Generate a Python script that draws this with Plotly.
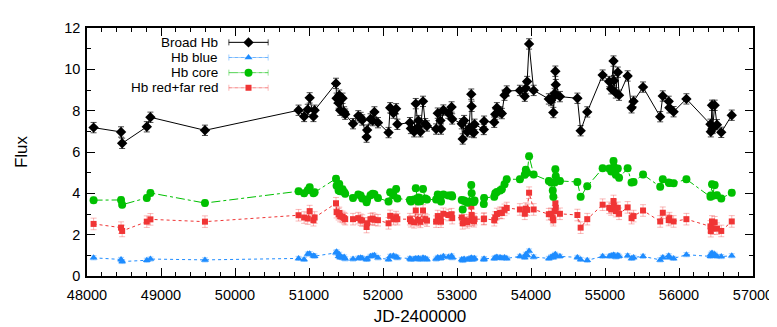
import plotly.graph_objects as go

# epochs (JD-2400000)
jd = [48089, 48460, 48475, 48808, 48857, 49594, 50859, 50934, 50983, 51009,
      51060, 51076, 51365, 51373, 51400, 51409, 51422, 51453, 51475, 51489,
      51595, 51666, 51698, 51719, 51778, 51786, 51831, 51861, 51884, 51932,
      52075, 52097, 52141, 52177, 52194, 52364, 52377, 52421, 52443, 52474,
      52480, 52505, 52541, 52571, 52594, 52718, 52740, 52776, 52784, 52816,
      52883, 52927, 52935, 53064, 53077, 53096, 53140, 53162, 53193, 53198,
      53206, 53229, 53237, 53362, 53366, 53503, 53517, 53539, 53583, 53606,
      53642, 53672, 53850, 53916, 53930, 53948, 53974, 54036, 54241, 54271,
      54294, 54302, 54320, 54329, 54335, 54391, 54627, 54671, 54760, 54968,
      55057, 55084, 55115, 55120, 55146, 55173, 55190, 55306, 55359, 55386,
      55514, 55746, 55781, 55861, 55870, 55927, 56100, 56425, 56430, 56446,
      56455, 56482, 56513, 56571, 56713]

broad = [7.18, 6.97, 6.42, 7.22, 7.68, 7.05, 8.02, 7.72, 8.06, 8.62,
         7.72, 8.02, 9.32, 8.60, 8.37, 8.75, 8.02, 8.60, 7.94, 7.83,
         7.37, 7.75, 7.67, 7.55, 6.72, 7.06, 7.60, 7.52, 7.94, 7.42,
         6.94, 8.14, 7.88, 8.09, 7.34, 7.42, 7.14, 6.98, 8.34, 7.21,
         7.52, 6.98, 8.45, 7.37, 7.26, 7.11, 7.88, 7.52, 7.11, 8.03,
         7.88, 8.18, 7.60, 7.37, 6.63, 7.52, 6.98, 7.14, 8.80, 8.21,
         6.98, 6.94, 7.34, 7.09, 7.49, 7.44, 7.83, 8.14, 7.94, 7.86,
         8.75, 8.95, 8.98, 8.70, 9.09, 9.41, 11.23, 8.98, 8.57, 8.49,
         8.64, 7.91, 8.83, 9.91, 9.26, 8.68, 8.60, 7.03, 7.94, 9.72,
         9.41, 9.06, 10.40, 9.45, 8.86, 9.86, 8.75, 9.68, 8.14, 8.45,
         9.14, 7.71, 8.71, 8.45, 8.14, 7.95, 8.57, 7.34, 6.98, 8.26,
         7.14, 8.26, 7.32, 6.95, 7.78]

core = [3.67, 3.68, 3.45, 3.78, 4.02, 3.53, 4.10, 4.00, 4.15, 4.29,
        4.01, 4.05, 4.71, 4.37, 4.14, 4.45, 4.10, 4.20, 4.06, 3.98,
        3.78, 3.94, 3.90, 3.75, 3.57, 3.70, 3.91, 3.98, 3.95, 3.78,
        3.60, 4.05, 3.91, 4.21, 3.75, 3.68, 3.60, 3.70, 4.25, 3.60,
        3.80, 3.62, 4.21, 3.75, 3.70, 3.70, 3.94, 3.85, 3.60, 3.94,
        3.90, 3.91, 3.85, 3.68, 3.22, 3.65, 3.55, 3.60, 4.40, 4.01,
        3.60, 3.58, 3.65, 3.48, 3.78, 3.83, 4.00, 4.06, 4.14, 4.20,
        4.44, 4.68, 4.68, 4.90, 5.14, 5.00, 5.80, 4.91, 4.60, 4.52,
        4.14, 3.83, 4.52, 5.17, 4.83, 4.60, 4.55, 3.83, 4.34, 5.21,
        5.20, 5.06, 5.57, 5.29, 4.90, 5.20, 4.75, 5.21, 4.52, 4.55,
        4.91, 4.32, 4.68, 4.52, 4.50, 4.49, 4.68, 3.83, 3.90, 4.44,
        3.88, 4.40, 3.91, 3.75, 4.03]

redfar = [2.52, 2.34, 2.18, 2.63, 2.74, 2.63, 2.94, 2.83, 2.78, 3.14,
          2.70, 2.83, 3.52, 3.09, 2.99, 3.05, 2.90, 2.86, 2.80, 2.75,
          2.75, 2.80, 2.72, 2.68, 2.37, 2.55, 2.75, 2.78, 2.72, 2.70,
          2.55, 2.91, 2.75, 2.85, 2.75, 2.75, 2.65, 2.60, 3.17, 2.71,
          2.70, 2.62, 3.17, 2.75, 2.68, 2.63, 2.90, 2.75, 2.63, 3.01,
          2.95, 2.99, 2.80, 2.83, 2.55, 2.70, 2.60, 2.68, 3.37, 2.95,
          2.71, 2.65, 2.75, 2.75, 2.78, 2.70, 2.83, 3.00, 3.06, 3.05,
          3.20, 3.29, 3.22, 3.01, 3.26, 3.20, 4.03, 3.22, 2.99, 3.01,
          2.80, 2.70, 3.14, 3.52, 3.30, 3.01, 2.95, 2.34, 2.75, 3.45,
          3.30, 3.22, 3.63, 3.41, 3.14, 3.30, 3.01, 3.32, 2.80, 2.90,
          3.17, 2.64, 3.06, 2.71, 2.80, 2.64, 2.75, 2.40, 2.17, 2.64,
          2.30, 2.60, 2.29, 2.18, 2.64]

blue = [0.88, 0.80, 0.70, 0.76, 0.82, 0.78, 0.85, 0.80, 1.06, 1.08,
        0.98, 0.96, 1.12, 1.17, 0.95, 1.05, 0.90, 0.88, 0.92, 0.83,
        0.82, 0.86, 0.88, 0.86, 0.80, 0.84, 0.95, 0.98, 1.00, 0.88,
        0.80, 0.95, 0.98, 0.92, 0.88, 0.85, 0.80, 0.82, 0.85, 0.84,
        0.86, 0.80, 0.88, 0.85, 0.80, 0.82, 0.90, 0.88, 0.86, 0.95,
        0.92, 0.97, 0.88, 0.80, 0.75, 0.82, 0.80, 0.82, 0.88, 0.85,
        0.80, 0.82, 0.86, 0.80, 0.84, 0.85, 0.88, 0.92, 0.90, 0.86,
        0.90, 0.85, 0.95, 0.90, 1.05, 1.00, 1.21, 0.92, 0.85, 0.92,
        0.95, 0.90, 1.00, 1.05, 0.98, 0.95, 0.90, 0.80, 0.76, 0.95,
        0.95, 0.98, 1.02, 1.00, 0.92, 1.00, 0.95, 0.98, 0.85, 0.90,
        0.95, 0.78, 0.90, 0.98, 0.90, 0.85, 1.03, 0.95, 1.05, 1.11,
        1.00, 1.05, 0.95, 0.94, 0.98]

FONT = "Liberation Sans, Arial, sans-serif"

series = [
    # name, y, err, color, errcolor, dash, symbol, marker size
    ("Broad Hb", broad, 0.25, "#000000", "rgba(0,0,0,0.7)", "solid", "diamond", 8),
    ("Hb blue", blue, 0.10, "#1e8cff", "rgba(30,140,255,0.4)", "3px,3px", "triangle-up", 7),
    ("Hb core", core, 0.15, "#00c000", "rgba(0,192,0,0.4)", "dashdot", "circle", 8),
    ("Hb red+far red", redfar, 0.28, "#f03535", "rgba(240,53,53,0.35)", "dot", "square", 6),
]

fig = go.Figure()

# draw order: black last so it sits on top
for name, y, err, col, ecol, dash, sym, ms in series[::-1]:
    fig.add_trace(go.Scatter(
        x=jd, y=y, mode="lines+markers", name=name, showlegend=False,
        line=dict(color=col, width=1, dash=dash),
        marker=dict(symbol=sym, size=ms, color=col, line=dict(width=0)),
        error_y=dict(type="constant", value=err, color=ecol, thickness=1, width=3),
    ))

# hand-made gnuplot style key (text right, sample on the right)
key_y = [0.942, 0.881, 0.820, 0.759]
x0, x1 = 0.213, 0.272
xc = (x0 + x1) / 2
for (name, y, err, col, ecol, dash, sym, ms), ky in zip(series, key_y):
    fig.add_trace(go.Scatter(
        x=[x0, x1], y=[ky, ky], mode="lines", showlegend=False,
        line=dict(color=ecol, width=1, dash=dash), xaxis="x2", yaxis="y2", hoverinfo="skip"))
    fig.add_trace(go.Scatter(
        x=[xc], y=[ky], mode="markers", showlegend=False,
        marker=dict(symbol=sym, size=ms, color=col),
        error_x=dict(type="constant", value=(x1 - x0) / 2, color=ecol, thickness=1, width=3),
        xaxis="x2", yaxis="y2", hoverinfo="skip"))
    fig.add_annotation(x=0.198, y=ky, xref="paper", yref="paper", text=name,
                       showarrow=False, xanchor="right", yanchor="middle",
                       borderpad=0,
                       font=dict(family=FONT, size=13.5, color="#000000"))

fig.update_layout(
    width=777, height=327,
    margin=dict(l=74, r=27, t=18, b=49),
    paper_bgcolor="white", plot_bgcolor="white",
    font=dict(family=FONT, size=14.5, color="#000000"),
    showlegend=False,
    xaxis=dict(range=[48000, 57000], dtick=1000, tick0=48000, tickformat="d",
               ticks="inside", ticklen=8, tickwidth=1, tickcolor="black",
               ticklabelstandoff=5,
               minor=dict(dtick=200, ticks="inside", ticklen=4, tickcolor="black"),
               showline=True, linecolor="black", linewidth=1.5, mirror="ticks",
               showgrid=False, zeroline=False,
               title=dict(text="JD-2400000", standoff=8)),
    yaxis=dict(range=[0, 12], dtick=2, tick0=0,
               ticks="inside", ticklen=8, tickwidth=1, tickcolor="black",
               ticklabelstandoff=2,
               minor=dict(dtick=1, ticks="inside", ticklen=4, tickcolor="black"),
               showline=True, linecolor="black", linewidth=1.5, mirror="ticks",
               showgrid=False, zeroline=False,
               title=dict(text="Flux", standoff=32)),
    xaxis2=dict(overlaying="x", range=[0, 1], visible=False),
    yaxis2=dict(overlaying="y", range=[0, 1], visible=False),
)

fig.write_html("out.html")
